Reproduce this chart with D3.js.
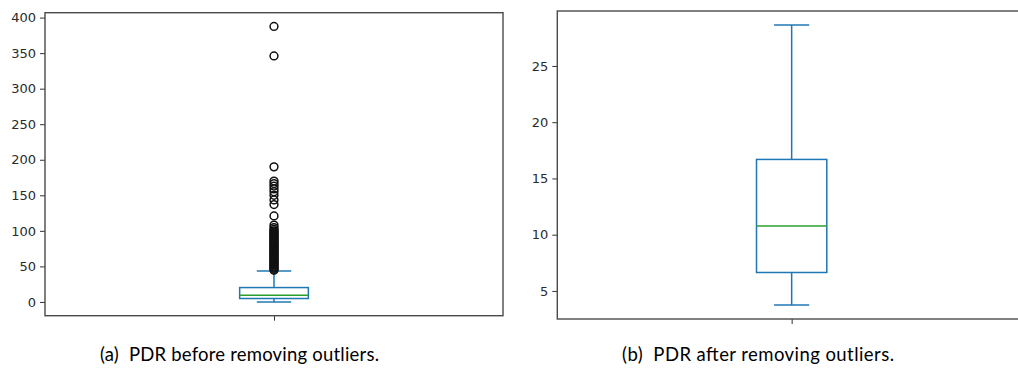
<!DOCTYPE html>
<html>
<head>
<meta charset="utf-8">
<script src="https://cdn.jsdelivr.net/npm/d3@7"></script>
<style>
  html, body { margin: 0; padding: 0; background: #fff; }
  svg { display: block; }
</style>
</head>
<body>
<svg id="fig" width="1018" height="371"></svg>
<script>
// Five-number summaries: [lower whisker, Q1, median, Q3, upper whisker]
const statNames = ["whiskerLow", "q1", "median", "q3", "whiskerHigh"];
const pdrBeforeStats = [0, 4.8, 9.4, 20.2, 43.6];
const pdrAfterStats = [3.75, 6.64, 10.78, 16.69, 28.64];

// Fliers beyond the upper whisker of the raw PDR series
const pdrBeforeOutliers = [
  387.5, 346.0, 190.0, 170.0, 166.5, 163.0, 159.0, 155.0, 150.0, 143.5, 137.0,
  121.0, 108.0, 104.5, 102.0, 100.0, 98.5, 97.0, 95.5, 94.0, 92.5, 91.0, 89.5,
  88.0, 86.5, 85.0, 83.5, 82.0, 80.5, 79.0, 77.5, 76.0, 74.5, 73.0, 71.5, 70.0,
  68.5, 67.0, 65.5, 64.0, 62.5, 61.0, 59.5, 58.0, 56.5, 55.0, 53.5, 52.0, 50.5,
  49.0, 47.5, 46.0, 44.5
];
const pdrAfterOutliers = [];

// Tick labels per panel
const beforeTicks = [0, 50, 100, 150, 200, 250, 300, 350, 400];
const afterTicks = [5, 10, 15, 20, 25];

const captions = ["(a)  PDR before removing outliers.", "(b)  PDR after removing outliers."];

const svg = d3.select("#fig");

const BLUE = "#1f77b4", GREEN = "#2ca02c";

function drawPanel(cfg) {
  const { left, right, top, bottom, stats, outliers, ticks, caption, capX, capW } = cfg;
  const s = Object.fromEntries(statNames.map((n, i) => [n, stats[i]]));
  const lo = d3.min([s.whiskerLow, ...outliers]);
  const hi = d3.max([s.whiskerHigh, ...outliers]);
  const pad = (hi - lo) * 0.05;

  const y = d3.scaleLinear().domain([lo - pad, hi + pad]).range([bottom, top]);
  const x = d3.scaleLinear().domain([0.5, 1.5]).range([left, right]);

  const g = svg.append("g");

  // y axis
  const yAxis = d3.axisLeft(y).tickValues(ticks).tickSize(5).tickPadding(4);
  const ya = g.append("g").attr("transform", `translate(${left},0)`).call(yAxis);
  ya.select(".domain").remove();
  ya.selectAll("line").attr("stroke", "#333").attr("stroke-width", 1);
  ya.selectAll("text")
    .attr("font-family", "DejaVu Sans, sans-serif")
    .attr("font-size", 13)
    .attr("fill", "#2b2b2b");

  // x axis: single tick, no label
  const xAxis = d3.axisBottom(x).tickValues([1]).tickSize(5).tickFormat("");
  const xa = g.append("g").attr("transform", `translate(0,${bottom})`).call(xAxis);
  xa.select(".domain").remove();
  xa.selectAll("line").attr("stroke", "#333").attr("stroke-width", 1);

  const cx = x(1);
  const boxHalf = (x(1.075) - x(0.925)) / 2;
  const capHalf = boxHalf / 2;

  const box = g.append("g").attr("fill", "none").attr("stroke", BLUE).attr("stroke-width", 1.5);
  // whiskers
  box.append("line").attr("x1", cx).attr("x2", cx).attr("y1", y(s.q1)).attr("y2", y(s.whiskerLow));
  box.append("line").attr("x1", cx).attr("x2", cx).attr("y1", y(s.q3)).attr("y2", y(s.whiskerHigh));
  // caps
  box.append("line").attr("x1", cx - capHalf).attr("x2", cx + capHalf).attr("y1", y(s.whiskerLow)).attr("y2", y(s.whiskerLow));
  box.append("line").attr("x1", cx - capHalf).attr("x2", cx + capHalf).attr("y1", y(s.whiskerHigh)).attr("y2", y(s.whiskerHigh));
  // box
  box.append("rect")
    .attr("x", cx - boxHalf).attr("width", boxHalf * 2)
    .attr("y", y(s.q3)).attr("height", y(s.q1) - y(s.q3));
  // median
  g.append("line").attr("stroke", GREEN).attr("stroke-width", 1.5)
    .attr("x1", cx - boxHalf).attr("x2", cx + boxHalf)
    .attr("y1", y(s.median)).attr("y2", y(s.median));

  // fliers
  g.append("g").selectAll("circle").data(outliers).join("circle")
    .attr("cx", cx).attr("cy", d => y(d)).attr("r", 3.9)
    .attr("fill", "none").attr("stroke", "#111").attr("stroke-width", 1.5);

  // frame
  g.append("rect")
    .attr("x", left).attr("y", top).attr("width", right - left).attr("height", bottom - top)
    .attr("fill", "none").attr("stroke", "#4a4a4a").attr("stroke-width", 1.4);

  // caption
  svg.append("text")
    .attr("x", capX).attr("y", 361)
    .attr("font-family", "Lato, 'Open Sans', sans-serif")
    .attr("font-size", 18.5)
    .attr("fill", "#000")
    .attr("textLength", capW).attr("lengthAdjust", "spacing")
    .attr("xml:space", "preserve")
    .style("white-space", "pre")
    .text(caption);
}

drawPanel({
  left: 45, right: 503, top: 12.7, bottom: 315.7,
  stats: pdrBeforeStats, outliers: pdrBeforeOutliers, ticks: beforeTicks,
  caption: captions[0], capX: 100, capW: 279
});

drawPanel({
  left: 557.3, right: 1026, top: 11, bottom: 319,
  stats: pdrAfterStats, outliers: pdrAfterOutliers, ticks: afterTicks,
  caption: captions[1], capX: 622, capW: 272
});
</script>
</body>
</html>
